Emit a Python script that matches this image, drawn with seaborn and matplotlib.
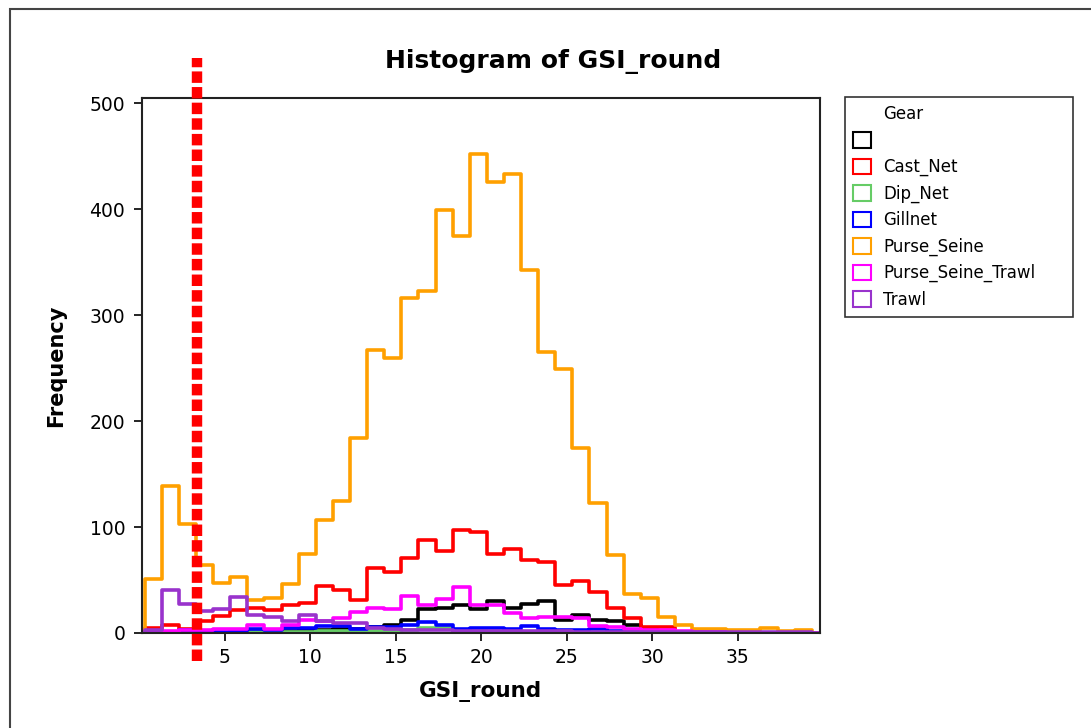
import numpy as np
import pandas as pd
import matplotlib
matplotlib.use("Agg")
import matplotlib.pyplot as plt
from matplotlib.patches import Patch, Rectangle
from matplotlib.lines import Line2D
import seaborn as sns

# counts per bin (bins of width 1 starting at 0.32)
gears = ["", "Cast_Net", "Dip_Net", "Gillnet", "Purse_Seine", "Purse_Seine_Trawl", "Trawl"]
colores = ["#000000", "#ff0000", "#66cc66", "#0000ff", "#ffa000", "#ff00ff", "#9933cc"]

blank = [0, 0, 0, 0, 0, 1, 1, 2, 2, 3, 3, 4, 4, 6, 8, 12, 23, 24, 26, 23,
         30, 24, 27, 30, 12, 17, 12, 11, 8, 3, 2, 1, 1, 0, 0, 0, 0, 0, 0]
cast_net = [5, 8, 4, 11, 16, 22, 24, 22, 26, 28, 44, 41, 31, 61, 58, 71, 88, 77, 97, 95,
            75, 79, 69, 67, 45, 49, 39, 24, 14, 6, 6, 1, 1, 0, 0, 0, 0, 0, 0]
dip_net = [0, 0, 0, 0, 0, 0, 1, 1, 1, 1, 2, 2, 2, 2, 2, 3, 5, 5, 2, 2,
           1, 1, 1, 1, 1, 0, 0, 0, 0, 0, 0, 0, 0, 0, 0, 0, 0, 0, 0]
gillnet = [0, 1, 3, 1, 1, 2, 4, 3, 5, 5, 7, 7, 4, 6, 6, 8, 10, 8, 4, 5,
           5, 4, 7, 4, 3, 3, 4, 2, 1, 0, 0, 0, 0, 0, 0, 0, 0, 0, 0]
purse_seine = [51, 139, 103, 64, 47, 53, 31, 33, 46, 75, 107, 125, 184, 267, 260, 316, 323, 399, 375, 452,
               426, 433, 343, 265, 249, 175, 123, 74, 37, 33, 15, 8, 4, 4, 3, 3, 5, 2, 3]
purse_seine_trawl = [0, 2, 3, 3, 4, 4, 8, 4, 8, 12, 11, 14, 20, 24, 23, 35, 26, 32, 43, 26,
                     26, 19, 14, 15, 15, 14, 7, 6, 4, 3, 3, 2, 1, 1, 0, 0, 0, 0, 0]
trawl = [3, 41, 27, 21, 23, 34, 17, 15, 11, 17, 11, 9, 9, 5, 4, 3, 3, 3, 2, 2,
         2, 2, 2, 2, 2, 1, 1, 1, 1, 1, 1, 1, 1, 1, 1, 1, 1, 1, 1]

# one empty bin on each side so the outline closes down to zero
bordes = list(-0.68 + np.arange(len(purse_seine) + 3))
linea_ref = 3.35

series = [blank, cast_net, dip_net, gillnet, purse_seine, purse_seine_trawl, trawl]
filas = []
for g, cuentas in zip(gears, series):
    for i, c in enumerate([0] + cuentas + [0]):
        filas.append({"GSI_round": bordes[i] + 0.5, "Frequency": c, "Gear": g})
df = pd.DataFrame(filas)

sns.set_style("white")
plt.rcParams["font.family"] = ["DejaVu Sans"]
plt.rcParams["text.color"] = "black"
plt.rcParams["axes.labelcolor"] = "black"
plt.rcParams["xtick.color"] = "black"
plt.rcParams["ytick.color"] = "black"

fig = plt.figure(figsize=(10.91, 7.28), dpi=100)
ax = fig.add_axes([0.130, 0.1305, 0.6216, 0.7349])

for g, col in zip(gears, colores):
    sub = df[df["Gear"] == g]
    sns.histplot(data=sub, x="GSI_round", weights="Frequency", bins=bordes,
                 element="step", fill=False, color=col, linewidth=2.6, ax=ax)

ax.set_xlim(0.15, 39.8)
ax.set_ylim(0, 505)
ax.set_xticks([5, 10, 15, 20, 25, 30, 35])
ax.set_yticks([0, 100, 200, 300, 400, 500])
ax.tick_params(axis="both", direction="out", length=6, width=1.2, labelsize=13.5,
               bottom=True, left=True)
ax.tick_params(axis="y", pad=6)
ax.tick_params(axis="x", pad=5)
for s in ax.spines.values():
    s.set_color("#222222")
    s.set_linewidth(1.5)
ax.set_xlabel("GSI_round", fontsize=15.5, fontweight="bold", labelpad=10)
ax.set_ylabel("Frequency", fontsize=15, fontweight="bold", labelpad=17)

# red dashed reference line
ax.plot([linea_ref, linea_ref], [-0.052, 1.075], transform=ax.get_xaxis_transform(),
        color="#ff0000", linewidth=7.5, linestyle=(0, (1.1, 0.4)), solid_capstyle="butt",
        dash_capstyle="butt", clip_on=False, zorder=5)

fig.text(0.507, 0.916, "Histogram of GSI_round", ha="center", va="center",
         fontsize=18, fontweight="bold")

handles = [Line2D([], [], linestyle="none")]
labels = ["Gear"]
for g, col in zip(gears, colores):
    handles.append(Patch(facecolor="none", edgecolor=col, linewidth=1.5))
    labels.append(g)
leg = fig.legend(handles, labels, loc="upper left", bbox_to_anchor=(0.7745, 0.5687, 0.2090, 0.2981),
                 mode="expand", fontsize=12, frameon=True, fancybox=False, edgecolor="black",
                 handlelength=1.05, handleheight=1.05, labelspacing=0.5, handletextpad=0.75,
                 borderaxespad=0, borderpad=0.5)
leg.get_frame().set_linewidth(1.2)

# outer frame of the picture
fig.patches.append(Rectangle((10 / 1091, -0.5), 2, 0.5 + 1 - 9 / 728, transform=fig.transFigure,
                             fill=False, edgecolor="#444444", linewidth=1.5))

fig.savefig("out.png", dpi=100, facecolor="white")
